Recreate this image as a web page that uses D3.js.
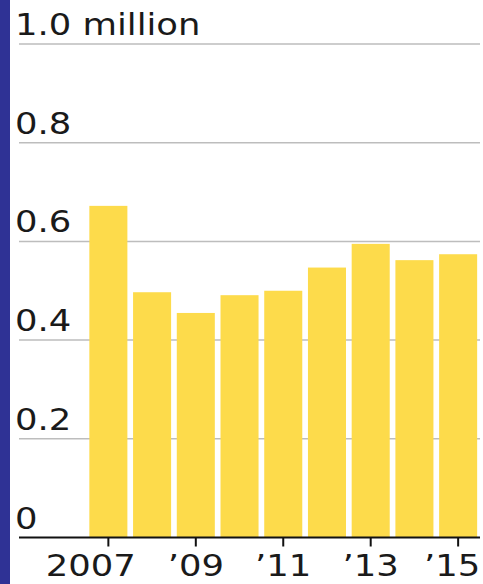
<!DOCTYPE html>
<html><head><meta charset="utf-8">
<script src="https://cdn.jsdelivr.net/npm/d3@7"></script>
<style>html,body{margin:0;padding:0;background:#fff;}svg{display:block;}</style>
</head><body>
<svg id="c" width="483" height="584"></svg>
<script>
const years = ["2007","2008","2009","2010","2011","2012","2013","2014","2015"];
const values = [0.672, 0.497, 0.455, 0.491, 0.500, 0.547, 0.595, 0.562, 0.574];
const xTickLabels = {"2007":"2007","2009":"’09","2011":"’11","2013":"’13","2015":"’15"};
const yTicks = [0, 0.2, 0.4, 0.6, 0.8, 1.0];
const yTickLabels = ["0","0.2","0.4","0.6","0.8","1.0 million"];

const svg = d3.select("#c");
const W = 483, H = 584;
const x = d3.scaleBand().domain(years).range([86.5, 480]).paddingInner(0.13).paddingOuter(0.065);
const y = d3.scaleLinear().domain([0, 1]).range([537.5, 44]);
const sx = 1.18;

svg.append("rect").attr("x",0).attr("y",0).attr("width",10).attr("height",H).attr("fill","#2f3295");

const font = "DejaVu Sans, sans-serif";
// gridlines
svg.append("g").selectAll("line").data(yTicks.filter(d=>d>0)).join("line")
  .attr("x1",19).attr("x2",480).attr("y1",d=>y(d)).attr("y2",d=>y(d))
  .attr("stroke","#bdbdbd").attr("stroke-width",1.5);
// y labels
svg.append("g").selectAll("text").data(yTicks).join("text")
  .attr("transform",d=>`translate(15,${y(d)-9}) scale(${sx},1)`)
  .attr("font-family",font).attr("font-size",30)
  .attr("fill","#1a1a1a")
  .text((d,i)=>yTickLabels[i]);
// bars
svg.append("g").selectAll("rect").data(years).join("rect")
  .attr("x",d=>x(d)).attr("width",x.bandwidth())
  .attr("y",(d,i)=>y(values[i])).attr("height",(d,i)=>y(0)-y(values[i]))
  .attr("fill","#fddb4b");
// x axis
const xAxis = d3.axisBottom(x).tickSize(9).tickSizeOuter(0)
  .tickValues(Object.keys(xTickLabels)).tickFormat(d=>xTickLabels[d]).tickPadding(8);
const gx = svg.append("g").attr("transform",`translate(0,${y(0)})`).call(xAxis);
gx.select(".domain").remove();
gx.append("line").attr("x1",19).attr("x2",480).attr("y1",0).attr("y2",0).attr("stroke","#111").attr("stroke-width",2);
gx.selectAll(".tick line").attr("stroke","#111").attr("stroke-width",2);
gx.selectAll(".tick text").attr("font-family",font).attr("font-size",30)
  .attr("fill","#1a1a1a").attr("dy","0.71em")
  .attr("dx",d=>d==="2007"?-15:(d==="2015"?-5:0))
  .attr("transform",`scale(${sx},1)`);
</script>
</body></html>
